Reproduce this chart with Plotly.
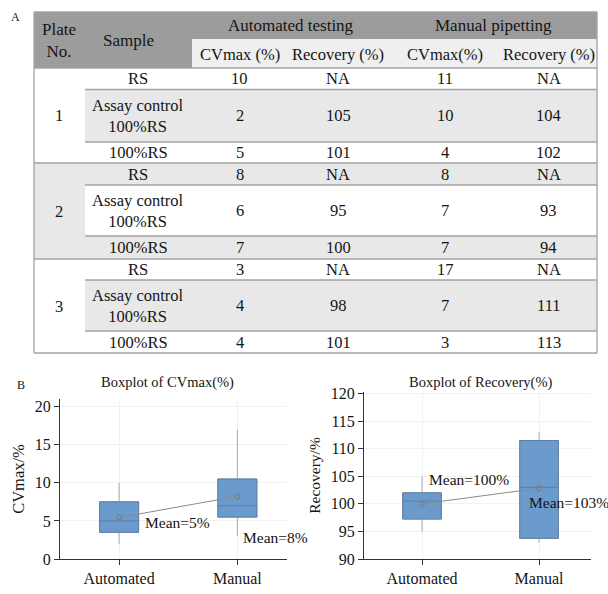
import numpy as np
import plotly.graph_objects as go

# ---------------- data ----------------
plates = ["1", "2", "3"]
samples = ["RS", "Assay control<br>100%RS", "100%RS"]
auto_cv = [10, 2, 5, 8, 6, 7, 3, 4, 4]
auto_rec = ["NA", 105, 101, "NA", 95, 100, "NA", 98, 101]
man_cv = [11, 10, 4, 8, 7, 7, 17, 7, 3]
man_rec = ["NA", 104, 102, "NA", 93, 94, "NA", 111, 113]
head_main = ["Plate<br>No.", "Sample"]
group_labels = ["Automated testing", "Manual pipetting"]
col_labels = ["CVmax (%)", "Recovery (%)", "CVmax(%)", "Recovery (%)"]
methods = ["Automated", "Manual"]
cv_ticks = [0, 5, 10, 15, 20]
rec_ticks = [90, 95, 100, 105, 110, 115, 120]

# ---------------- layout helpers ----------------
W, H = 608, 594
def X(px): return px / W
def Y(py): return 1 - py / H

SERIF = "Liberation Serif"
TXT = "#151515"
col_edges = [34, 85, 192, 287, 390, 500, 597]
head_y = [12, 39, 68]
row_edges = [68, 89.5, 142, 163, 185, 236, 259, 280, 331, 353]
DARK, LIGHT, SHADE, LINE = "#9c9c9c", "#efefef", "#e8e8e8", "#a3a3a3"
BODY = 16.5

shapes, annotations = [], []

def rect(x0, y0, x1, y1, fill):
    shapes.append(dict(type="rect", xref="paper", yref="paper", x0=X(x0), x1=X(x1),
                       y0=Y(y1), y1=Y(y0), fillcolor=fill, line=dict(width=0), layer="below"))

def hline(x0, x1, y, color=LINE, w=1.3):
    shapes.append(dict(type="line", xref="paper", yref="paper", x0=X(x0), x1=X(x1),
                       y0=Y(y), y1=Y(y), line=dict(color=color, width=w)))

def vline(x, y0, y1, color=LINE, w=1.3):
    shapes.append(dict(type="line", xref="paper", yref="paper", x0=X(x), x1=X(x),
                       y0=Y(y0), y1=Y(y1), line=dict(color=color, width=w)))

def text(x, y, s, size=BODY, color=TXT, xanchor="center"):
    annotations.append(dict(xref="paper", yref="paper", x=X(x), y=Y(y), text=s, showarrow=False,
                            xanchor=xanchor, yanchor="middle", font=dict(family=SERIF, size=size, color=color)))

# header
rect(col_edges[0], head_y[0], col_edges[-1], head_y[2], DARK)
rect(col_edges[2], head_y[1], col_edges[-1], head_y[2], LIGHT)
text(59, 40, head_main[0], 17)
text(128, 40, head_main[1], 17)
text((col_edges[2] + col_edges[4]) / 2, 25.5, group_labels[0], 17)
text((col_edges[4] + col_edges[6]) / 2, 25.5, group_labels[1], 17)
for j, lab in enumerate(col_labels):
    text((col_edges[2 + j] + col_edges[3 + j]) / 2, 54, lab, BODY)

# body
cols = [auto_cv, auto_rec, man_cv, man_rec]
for p, pl in enumerate(plates):
    top, bot = row_edges[3 * p], row_edges[3 * p + 3]
    if p % 2 == 1:
        rect(col_edges[0], top, col_edges[1], bot, SHADE)
    text(59, (top + bot) / 2, pl)
    for r in range(3):
        i = 3 * p + r
        y0, y1 = row_edges[i], row_edges[i + 1]
        if (p % 2 == 1) != (r == 1):
            rect(col_edges[1], y0, col_edges[-1], y1, SHADE)
        yc = (y0 + y1) / 2
        text(138, yc, samples[r])
        for j, c in enumerate(cols):
            text((col_edges[2 + j] + col_edges[3 + j]) / 2, yc, str(c[i]))
        if r < 2:
            hline(col_edges[1], col_edges[-1], y1)
    hline(col_edges[0], col_edges[-1], bot)
hline(col_edges[0], col_edges[-1], head_y[0])
hline(col_edges[0], col_edges[-1], head_y[2])
vline(col_edges[0], head_y[0], row_edges[-1])
vline(col_edges[-1], head_y[0], row_edges[-1])

annotations.append(dict(xref="paper", yref="paper", x=X(9), y=Y(17), text="A", showarrow=False,
                        xanchor="left", yanchor="middle", font=dict(family=SERIF, size=12, color=TXT)))
annotations.append(dict(xref="paper", yref="paper", x=X(15), y=Y(385), text="B", showarrow=False,
                        xanchor="left", yanchor="middle", font=dict(family=SERIF, size=12, color=TXT)))

# ---------------- boxplots ----------------
def stats(v):
    v = np.sort(np.asarray(v, float))
    q1, med, q3 = np.percentile(v, [25, 50, 75], method="weibull")
    iqr = q3 - q1
    lo = v[v >= q1 - 1.5 * iqr].min()
    hi = v[v <= q3 + 1.5 * iqr].max()
    return q1, med, q3, lo, hi, v.mean()

def numeric(lst):
    return [v for v in lst if v != "NA"]

BOXFILL, BOXLINE, WHISK = "#6b9bcd", "#5f7ea6", "#a9a9a9"
fig = go.Figure()

panels = [
    ("x", "y", [auto_cv, man_cv], [(24, -5), (4, -41)]),
    ("x2", "y2", [numeric(auto_rec), numeric(man_rec)], [(5, 24), (-12, -14)]),
]
for xa, ya, groups, offs in panels:
    st = [stats(g) for g in groups]
    q1 = [s[0] for s in st]; med = [s[1] for s in st]; q3 = [s[2] for s in st]
    lo = [s[3] for s in st]; hi = [s[4] for s in st]; mean = [s[5] for s in st]
    fig.add_trace(go.Box(x=methods, q1=q1, median=med, q3=q3, lowerfence=lo, upperfence=hi,
                         width=0.33, whiskerwidth=0, fillcolor=BOXFILL, line=dict(color=WHISK, width=1),
                         boxpoints=False, xaxis=xa, yaxis=ya, showlegend=False, hoverinfo="skip"))
    fig.add_trace(go.Box(x=methods, q1=q1, median=med, q3=q3, lowerfence=q1, upperfence=q3,
                         width=0.33, whiskerwidth=0, fillcolor=BOXFILL, line=dict(color=BOXLINE, width=1),
                         boxpoints=False, xaxis=xa, yaxis=ya, showlegend=False, hoverinfo="skip"))
    fig.add_trace(go.Scatter(x=methods, y=mean, mode="lines+markers", xaxis=xa, yaxis=ya,
                             line=dict(color="#8a8a8a", width=1),
                             marker=dict(symbol="circle-open", size=5, color="#7a7a7a", line=dict(width=1)),
                             showlegend=False, hoverinfo="skip"))
    for m, mv, (dx, dy) in zip(methods, mean, offs):
        annotations.append(dict(xref=xa, yref=ya, x=m, y=mv, text=f"Mean={mv:.0f}%", showarrow=False,
                                xanchor="left", yanchor="middle", xshift=dx, yshift=dy,
                                font=dict(family=SERIF, size=15.5, color=TXT)))

text(167, 382, "Boxplot of CVmax(%)", 14.5)
text(481, 382, "Boxplot of Recovery(%)", 14.5)

axis_common = dict(showline=True, linecolor="#333", linewidth=1, ticks="outside", ticklen=5,
                   tickcolor="#333", tickfont=dict(family=SERIF, size=16, color=TXT),
                   showgrid=True, gridcolor="#f1f1f1", zeroline=False, fixedrange=True,
                   automargin=False)

fig.update_layout(
    template="none",
    width=W, height=H, margin=dict(l=0, r=0, t=0, b=0, pad=0, autoexpand=False),
    paper_bgcolor="white", plot_bgcolor="white", boxmode="overlay",
    shapes=shapes, annotations=annotations,
    xaxis=dict(domain=[X(60), X(287)], anchor="y", range=[-0.5, 1.42], **axis_common),
    yaxis=dict(domain=[Y(559), Y(399)], anchor="x", range=[0, 21], tickvals=cv_ticks,
               title=dict(text="CVmax/%", font=dict(family=SERIF, size=16.5, color=TXT), standoff=6),
               **axis_common),
    xaxis2=dict(domain=[X(364), X(591)], anchor="y2", range=[-0.496, 1.444], **axis_common),
    yaxis2=dict(domain=[Y(559), Y(392)], anchor="x2", range=[90, 120.3], tickvals=rec_ticks,
                title=dict(text="Recovery/%", font=dict(family=SERIF, size=15.5, color=TXT), standoff=6),
                **axis_common),
)

fig.write_html("out.html", config={"displayModeBar": False},
               post_script="document.body.style.margin='0';document.body.style.overflow='hidden';")
